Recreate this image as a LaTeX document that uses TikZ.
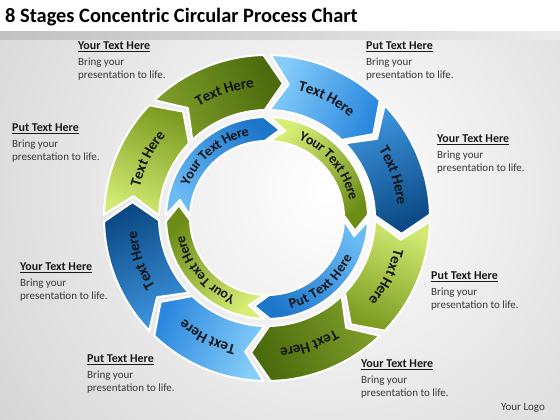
\documentclass[tikz,border=0pt]{standalone}
\usepackage{fontspec}
\setmainfont{Carlito}
\usetikzlibrary{decorations.text}
\definecolor{dbH}{HTML}{0B4A86}\definecolor{dbT}{HTML}{3E95DE}
\definecolor{lbH}{HTML}{2C88DE}\definecolor{lbT}{HTML}{86CEFA}
\definecolor{dgH}{HTML}{4A6A0C}\definecolor{dgT}{HTML}{809F2A}
\definecolor{lgH}{HTML}{7C9C22}\definecolor{lgT}{HTML}{D2EA72}
\definecolor{ibH}{HTML}{1C76CA}\definecolor{ibT}{HTML}{6ABAF4}
\definecolor{ilgH}{HTML}{6C8C18}\definecolor{ilgT}{HTML}{D6EE76}
\newcommand\segfontA{\fontsize{15}{15}\selectfont\bfseries\color{black!92}}
\newcommand\segfontB{\fontsize{14}{14}\selectfont\bfseries\color{black!92}}
\tikzset{
  headtxt/.style={font=\fontsize{12}{13}\selectfont\bfseries, inner sep=0pt, text=black!90},
  bodytxt/.style={font=\fontsize{11}{12}\selectfont, inner sep=0pt, text=black!78},
  segline/.style={draw=white, line width=2pt, line join=round},
}
% #1 head boundary, #2 span, #3 r in, #4 r out, #5 depth, #6 gap, #7 head colour, #8 tail colour
\newcommand\ringseg[8]{%
  \pgfmathsetmacro\sgA{#1+#6/2}%
  \pgfmathsetmacro\sgB{#1+#2-#6/2}%
  \pgfmathsetmacro\sgM{(#3+#4)/2}%
  \pgfmathsetmacro\sgTA{\sgA-#5}%
  \pgfmathsetmacro\sgTB{\sgB-#5}%
  \pgfmathsetmacro\sgSh{#1+#2/2-180}%
  \shadedraw[segline, top color=#7, bottom color=#8, shading angle=\sgSh]
    (\sgA:#4pt) arc[start angle=\sgA, end angle=\sgB, radius=#4pt]
    -- (\sgTB:\sgM pt) -- (\sgB:#3pt)
    arc[start angle=\sgB, end angle=\sgA, radius=#3pt]
    -- (\sgTA:\sgM pt) -- cycle;
}
% #1 start angle, #2 end angle, #3 radius, #4 font, #5 text
\newcommand\ringtext[5]{%
  \path[decorate, decoration={text along path, text={|#4|#5}, text align=center, raise=-4.6pt}]
    (#1:#3pt) arc[start angle=#1, end angle=#2, radius=#3pt];
}
\newcommand\sideblock[4]{%
  \node[headtxt, anchor=base west] (#1h) at (#2, 420-#3) {\underline{#4}};
  \node[bodytxt, anchor=base west] (#1a) at (#2, 420-#3-15.5) {Bring your};
  \node[bodytxt, anchor=base west] (#1b) at (#2, 420-#3-28.5) {presentation to life.};
}
\begin{document}
\begin{tikzpicture}[x=1pt,y=1pt]
\useasboundingbox (0,0) rectangle (560,420);
\fill[white] (0,0) rectangle (560,420);
\begin{scope}
  \clip (0,0) rectangle (560,388);
  \shade[inner color=white, outer color=black!18] (330,230) circle (450pt);
\end{scope}
\shade[left color=black!24, right color=black!8] (0,380) rectangle (560,388);

\node[anchor=west, font=\fontsize{20.4}{24}\selectfont\bfseries, inner sep=0pt] (title) at (5,403) {8 Stages Concentric Circular Process Chart};

\begin{scope}[shift={(267,202)}]
  % outer ring
  \ringseg{0}{45}{108}{163}{8}{2.5}{dbH}{dbT}
  \ringseg{45}{45}{108}{163}{8}{2.5}{lbH}{lbT}
  \ringseg{90}{45}{108}{163}{8}{2.5}{dgH}{dgT}
  \ringseg{135}{45}{108}{163}{8}{2.5}{lgH}{lgT}
  \ringseg{180}{45}{108}{163}{8}{2.5}{dbH}{dbT}
  \ringseg{225}{45}{108}{163}{8}{2.5}{lbH}{lbT}
  \ringseg{270}{45}{108}{163}{8}{2.5}{dgH}{dgT}
  \ringseg{315}{45}{108}{163}{8}{2.5}{lgH}{lgT}
  % inner ring
  \ringseg{0}{90}{77}{101}{10}{3.5}{ilgH}{ilgT}
  \ringseg{90}{90}{77}{101}{10}{3.5}{ibH}{ibT}
  \ringseg{180}{90}{77}{101}{10}{3.5}{ilgH}{ilgT}
  \ringseg{270}{90}{77}{101}{10}{3.5}{ibH}{ibT}
  % outer texts
  \ringtext{41}{-4}{135.5}{\segfontA}{Text Here}
  \ringtext{86}{41}{135.5}{\segfontA}{Text Here}
  \ringtext{131}{86}{135.5}{\segfontA}{Text Here}
  \ringtext{176}{131}{135.5}{\segfontA}{Text Here}
  \ringtext{221}{176}{135.5}{\segfontA}{Text Here}
  \ringtext{266}{221}{135.5}{\segfontA}{Text Here}
  \ringtext{311}{266}{135.5}{\segfontA}{Text Here}
  \ringtext{356}{311}{135.5}{\segfontA}{Text Here}
  % inner texts
  \ringtext{85}{-5}{89}{\segfontB}{Your Text Here}
  \ringtext{175}{85}{89}{\segfontB}{Your Text Here}
  \ringtext{265}{175}{89}{\segfontB}{Your Text Here}
  \ringtext{265}{355}{89}{\segfontB}{Put Text Here}
\end{scope}

\sideblock{s1}{78}{50}{Your Text Here}
\sideblock{s2}{366}{50}{Put Text Here}
\sideblock{s3}{12}{132}{Put Text Here}
\sideblock{s4}{437}{143}{Your Text Here}
\sideblock{s5}{20}{271}{Your Text Here}
\sideblock{s6}{87}{363}{Put Text Here}
\sideblock{s7}{431}{280}{Put Text Here}
\sideblock{s8}{361}{368}{Your Text Here}

\node[bodytxt, anchor=center] (logo) at (523,12) {Your Logo};
\end{tikzpicture}
\end{document}
